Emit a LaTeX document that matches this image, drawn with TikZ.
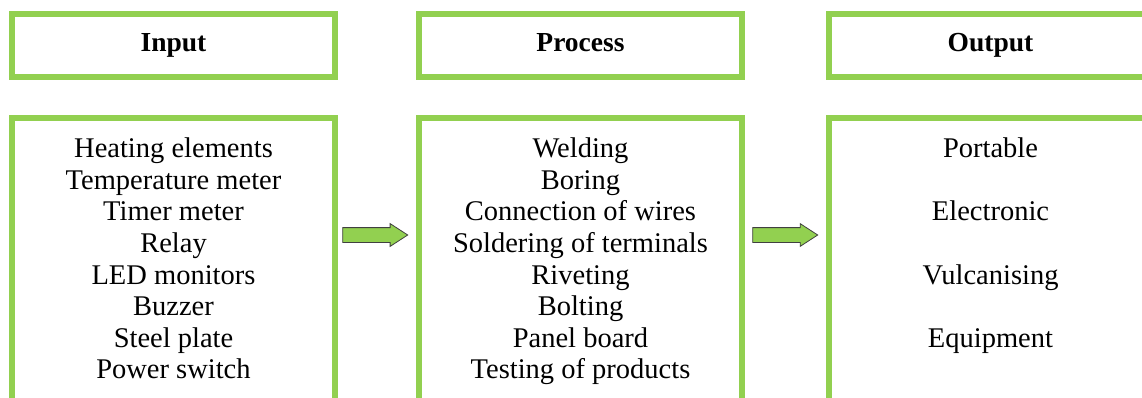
\documentclass[tikz,border=0pt]{standalone}
\usepackage{fontspec}
\setmainfont{Liberation Serif}
\usetikzlibrary{positioning}
\usetikzlibrary{shapes.arrows}
\definecolor{leafgreen}{HTML}{92D050}

\begin{document}
\begin{tikzpicture}[x=1pt,y=-1pt,
    box/.style={draw=leafgreen,line width=5.5pt,minimum width=323pt,inner sep=0pt},
    headbox/.style={box,minimum height=63pt,text height=19pt,text depth=6pt,%
      font=\fontsize{27.5}{31.6}\selectfont\bfseries},
    listbox/.style={box,minimum height=300pt},
    listtext/.style={align=center,inner sep=0pt,font=\fontsize{28.5}{31.6}\selectfont},
    fatarrow/.style={single arrow,fill=leafgreen,draw=black!75,line width=0.8pt,%
      minimum height=65pt,text height=7pt,text depth=7pt,single arrow head extend=4pt,%
      single arrow tip angle=66,inner sep=0pt}]
\useasboundingbox (0,0) rectangle (1142,398);
\clip (0,0) rectangle (1142,398);
\def\rowA{45.5}
\def\rowB{268}
% heads
\node[headbox] (inhead) at (173.5,\rowA) {Input};
\node[headbox] (prhead) at (580.5,\rowA) {Process};
\node[headbox] (outhead) at (990.5,\rowA) {Output};
% lists (run past the lower edge)
\node[listbox] (inbody) at (173.5,\rowB) {};
\node[listbox] (prbody) at (580.5,\rowB) {};
\node[listbox] (outbody) at (990.5,\rowB) {};
\node[listtext,below=22.5pt of inbody.north] (intext) {Heating elements\\Temperature meter\\Timer meter\\Relay\\LED monitors\\Buzzer\\Steel plate\\Power switch};
\node[listtext,below=22.5pt of prbody.north] (prtext) {Welding\\Boring\\Connection of wires\\Soldering of terminals\\Riveting\\Bolting\\Panel board\\Testing of products};
\node[listtext,below=22.5pt of outbody.north] (outtext) {Portable\\[31.6pt]Electronic\\[31.6pt]Vulcanising\\[31.6pt]Equipment};
% arrows
\node[fatarrow] (arrA) at (369.5,235) {};
\node[fatarrow] (arrB) at (779.5,235) {};
\end{tikzpicture}
\end{document}
